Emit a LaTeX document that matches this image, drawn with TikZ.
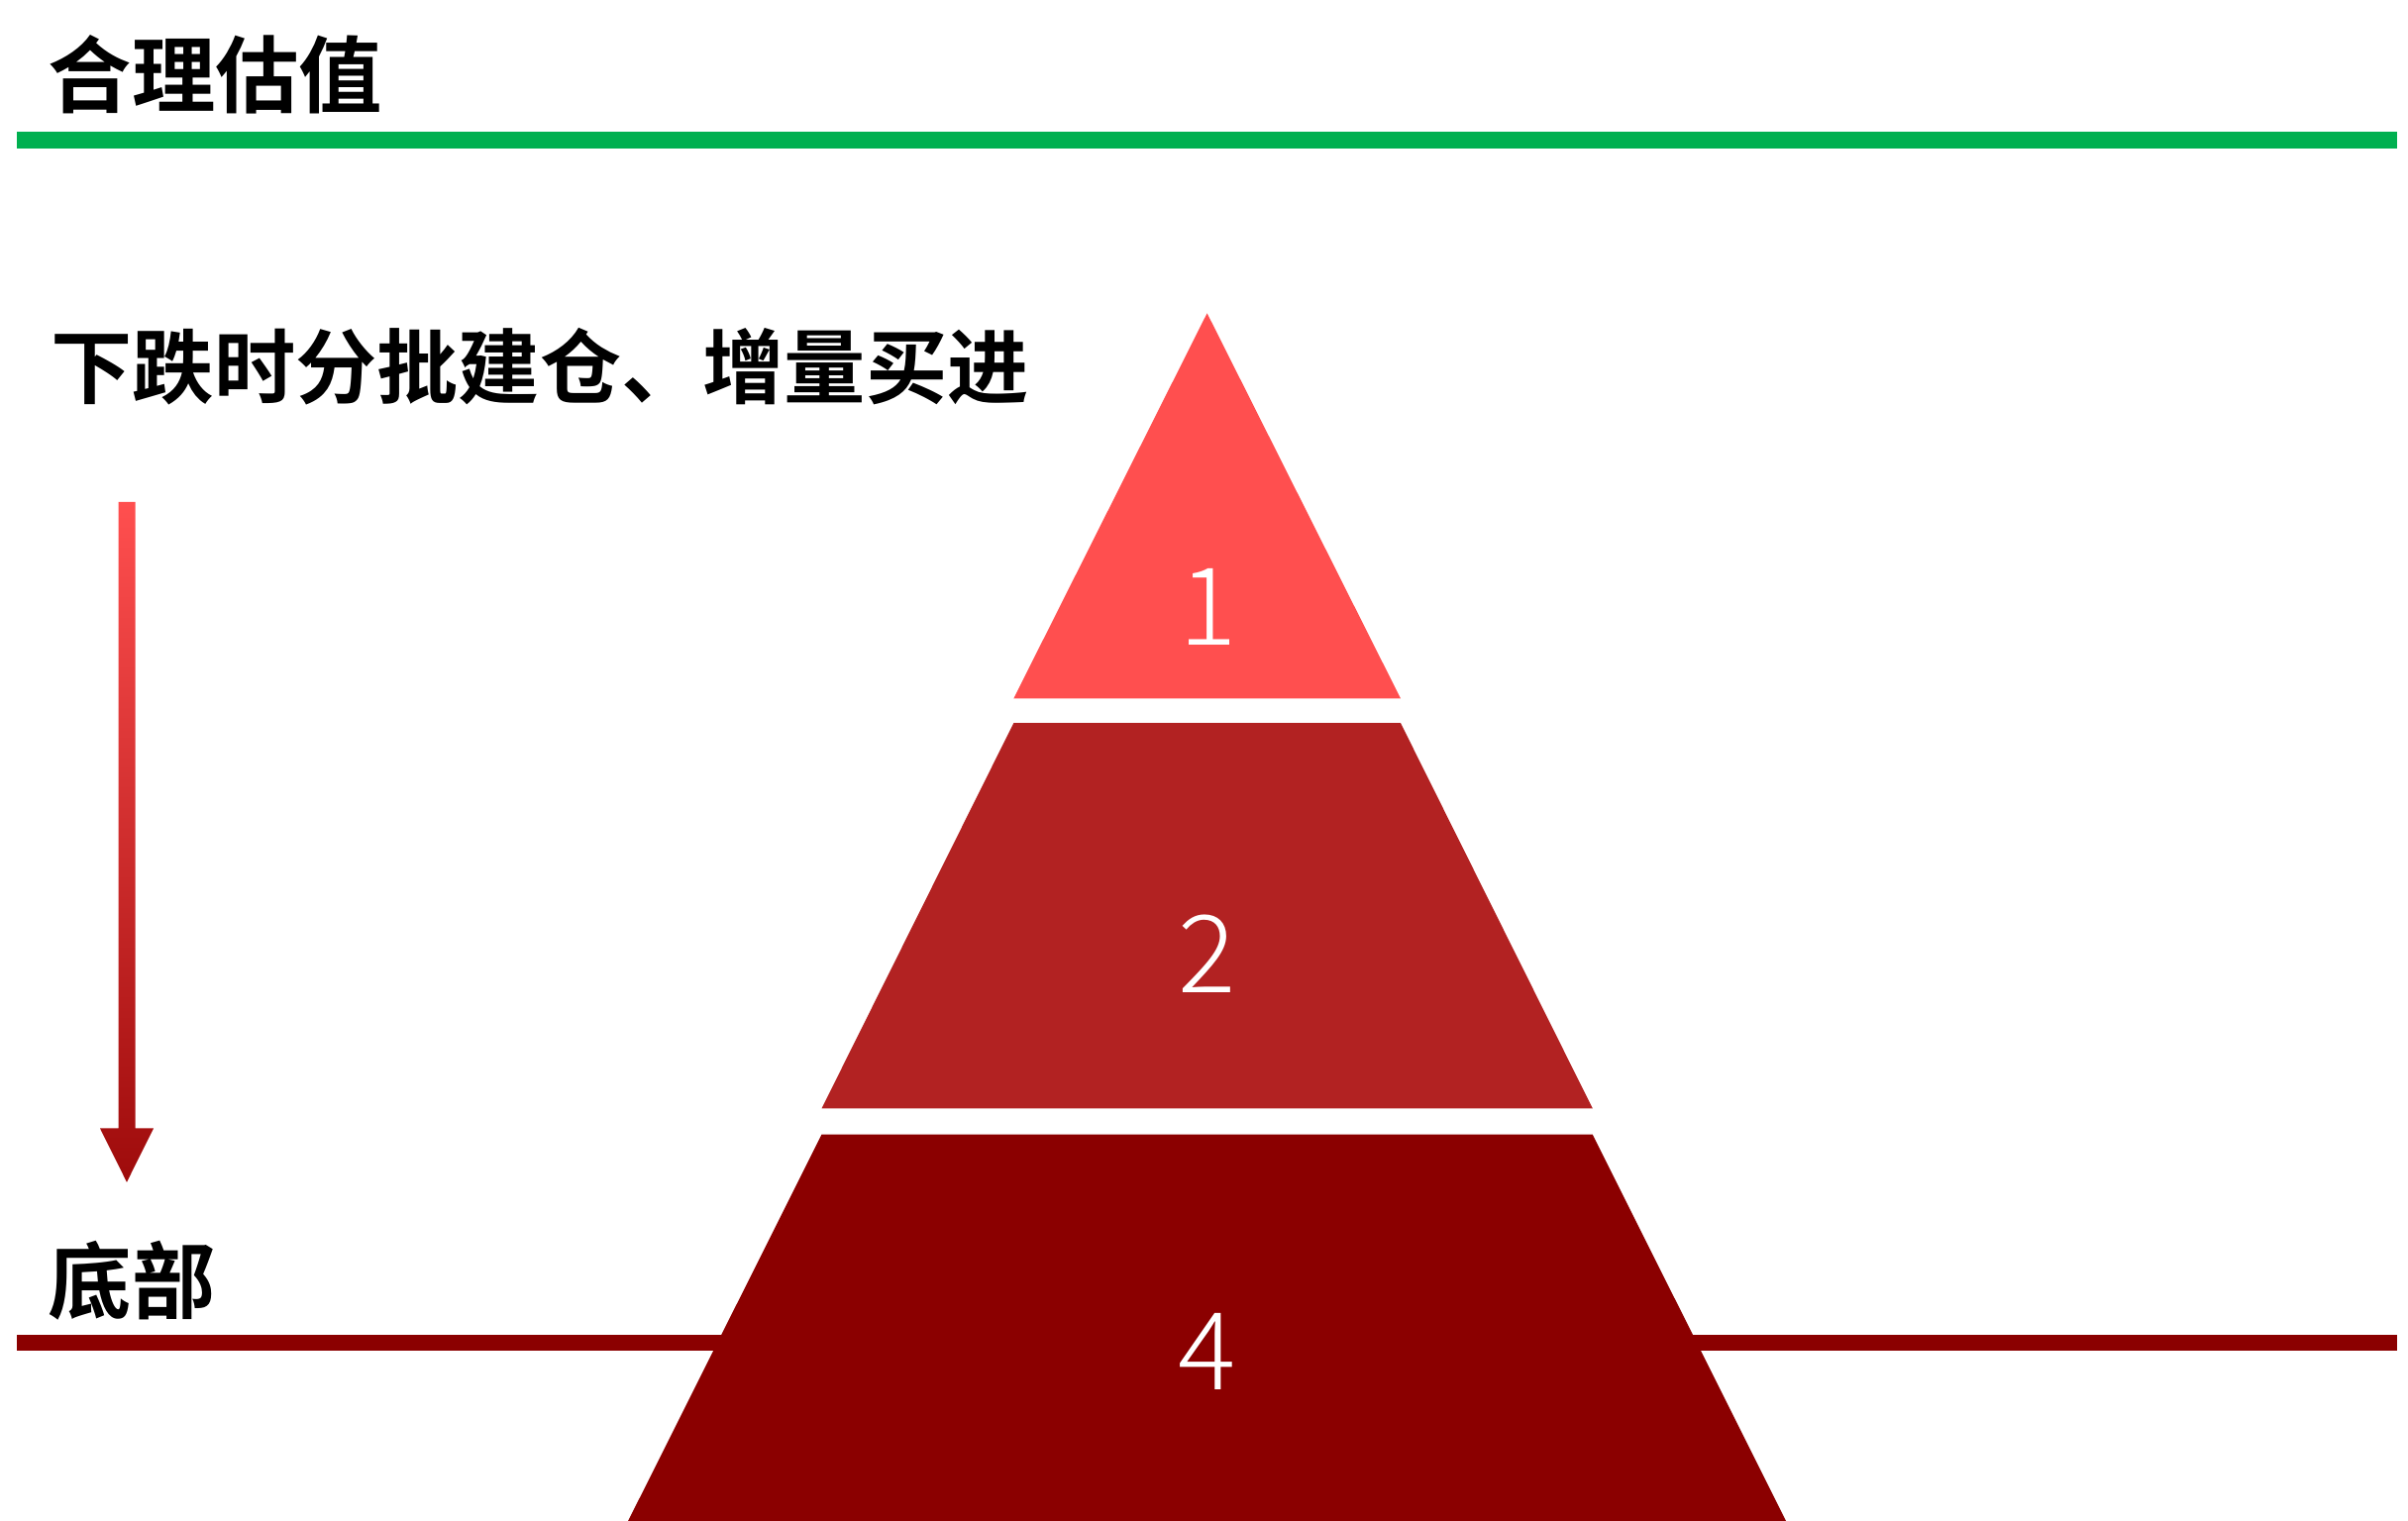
\documentclass[tikz,border=0pt]{standalone}
\usepackage{fontspec}
\newfontfamily\cjk{Noto Sans CJK SC Bold}
\newfontfamily\numfont{Noto Sans CJK SC Light}
\definecolor{topred}{HTML}{FF4F4F}
\definecolor{midred}{HTML}{B22222}
\definecolor{lowred}{HTML}{8B0000}
\definecolor{arrdark}{HTML}{9E0B0B}
\definecolor{valgreen}{HTML}{00B050}

\begin{document}
\begin{tikzpicture}[
  head/.style={inner sep=0pt, anchor=west,
    font=\cjk\fontsize{24pt}{28pt}\selectfont},
  num/.style={text=white, inner sep=0pt,
    font=\numfont\fontsize{31pt}{36pt}\selectfont}
]
  \useasboundingbox (0,0) rectangle (24.31,15.36);
  % level lines
  \coordinate (gl) at (0.17,13.945);
  \coordinate (gr) at (24.20,13.945);
  \coordinate (bl) at (0.17,1.795);
  \coordinate (br) at (24.20,1.795);
  \draw[valgreen, line width=0.17cm] (gl) -- (gr);
  \draw[lowred, line width=0.16cm] (bl) -- (br);
  \node[head] (fair) at (0.48,14.61) {合理估值};
  \node[head, font=\cjk\fontsize{23.4pt}{28pt}\selectfont] (buy) at (0.51,11.655) {下跌时分批建仓、增量买进};
  \node[head] (bottom) at (0.48,2.43) {底部};
  % falling arrow
  \shade[top color=topred, bottom color=arrdark]
    (1.195,10.29) -- (1.365,10.29) -- (1.365,3.965) -- (1.55,3.965)
    -- (1.28,3.422) -- (1.01,3.965) -- (1.195,3.965) -- cycle;
  % pyramid
  \fill[topred] (12.186,12.197) -- (14.14,8.306) -- (10.233,8.306) -- cycle;
  \fill[midred] (10.233,8.058) -- (14.14,8.058) -- (16.078,4.166) -- (8.295,4.166) -- cycle;
  \fill[lowred] (8.295,3.903) -- (16.078,3.903) -- (18.03,0) -- (6.341,0) -- cycle;
  \node[num] (n1) at (12.20,9.23) {1};
  \node[num] (n2) at (12.19,5.73) {2};
  \node[num] (n4) at (12.19,1.715) {4};
\end{tikzpicture}
\end{document}
